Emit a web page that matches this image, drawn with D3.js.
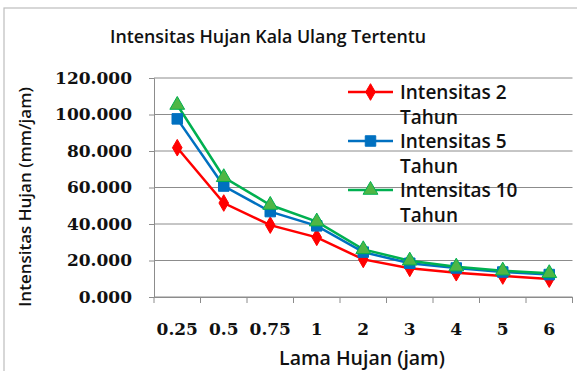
<!DOCTYPE html>
<html>
<head>
<meta charset="utf-8">
<script src="https://cdn.jsdelivr.net/npm/d3@7"></script>
<style>
  body { margin: 0; background: #fff; }
  svg { display: block; }
</style>
</head>
<body>
<svg id="chart"></svg>
<script>
// data
let durations = ["0.25", "0.5", "0.75", "1", "2", "3", "4", "5", "6"];
let int2 = [81.8, 51.5, 39.4, 32.7, 20.6, 15.7, 13.3, 11.5, 9.8];
let int5 = [97.6, 60.8, 46.8, 39.0, 24.6, 18.5, 15.9, 13.7, 12.3];
let int10 = [105.2, 65.6, 50.4, 41.3, 26.1, 19.9, 16.6, 14.4, 13.0];
let seriesNames = [["Intensitas 2", "Tahun"], ["Intensitas 5", "Tahun"], ["Intensitas 10", "Tahun"]];
let yTicks = [0, 20, 40, 60, 80, 100, 120];

let w = 577;
let h = 371;
let sans = "'Open Sans', sans-serif";
let serif = "'DejaVu Serif', serif";

let svg = d3.select("#chart")
    .attr("width", w)
    .attr("height", h);

// chart frame
svg.append("rect")
    .attr("x", 4).attr("y", 8)
    .attr("width", w + 10).attr("height", h + 10)
    .attr("fill", "none")
    .attr("stroke", "#bdbdbd")
    .attr("stroke-width", 1.2);

// scales
let xScale = d3.scaleBand()
    .domain(durations)
    .range([154, 572.5]);

let yScale = d3.scaleLinear()
    .domain([0, 120])
    .range([297, 78]);

// gridlines
svg.append("g")
    .selectAll("line")
    .data(yTicks)
    .join("line")
        .attr("x1", 154)
        .attr("x2", 572.5)
        .attr("y1", d => yScale(d))
        .attr("y2", d => yScale(d))
        .attr("stroke", "#8c8c8c")
        .attr("stroke-width", 1);

// y axis
let yAxis = d3.axisLeft(yScale)
    .tickValues(yTicks)
    .tickSize(5)
    .tickPadding(17)
    .tickFormat(d3.format(".3f"));
let yAxisGroup = svg.append("g")
    .attr("transform", "translate(154,0)")
    .call(yAxis);
yAxisGroup.select(".domain").attr("stroke", "#8c8c8c");
yAxisGroup.selectAll(".tick line").attr("stroke", "#8c8c8c");
yAxisGroup.selectAll("text")
    .attr("font-family", serif)
    .attr("font-size", 17)
    .attr("font-weight", "bold")
    .attr("fill", "#111");

// x axis
let xAxis = d3.axisBottom(xScale)
    .tickSize(0)
    .tickPadding(26);
let xAxisGroup = svg.append("g")
    .attr("transform", "translate(0,297)")
    .call(xAxis);
xAxisGroup.select(".domain").attr("stroke", "#8c8c8c");
xAxisGroup.selectAll("text")
    .attr("font-family", serif)
    .attr("font-size", 17)
    .attr("font-weight", "bold")
    .attr("fill", "#111");

// category separator ticks
let edges = durations.map(d => xScale(d)).concat([xScale.range()[1]]);
svg.append("g")
    .selectAll("line")
    .data(edges)
    .join("line")
        .attr("x1", d => d).attr("x2", d => d)
        .attr("y1", 297).attr("y2", 303)
        .attr("stroke", "#8c8c8c");

// series
let series = [
    { values: int2, color: "#ff0000", fill: "#ff0000", shape: d3.symbolDiamond, size: 80 },
    { values: int5, color: "#0070c0", fill: "#0070c0", shape: d3.symbolSquare, size: 110 },
    { values: int10, color: "#00b050", fill: "#4fb645", shape: d3.symbolTriangle, size: 95 }
];

let line = d3.line()
    .x((d, i) => xScale(durations[i]) + xScale.bandwidth() / 2)
    .y(d => yScale(d));

series.forEach(s => {
    svg.append("path")
        .datum(s.values)
        .attr("d", line)
        .attr("fill", "none")
        .attr("stroke", s.color)
        .attr("stroke-width", 2.5);
});

series.forEach(s => {
    svg.append("g")
        .selectAll("path")
        .data(s.values)
        .join("path")
            .attr("transform", (d, i) => `translate(${xScale(durations[i]) + xScale.bandwidth() / 2},${yScale(d)})`)
            .attr("d", d3.symbol().type(s.shape).size(s.size))
            .attr("fill", s.fill)
            .attr("stroke", s.color)
            .attr("stroke-width", 1);
});

// legend
let legend = svg.append("g");
series.forEach((s, i) => {
    let y = 92 + i * 49;
    legend.append("line")
        .attr("x1", 348).attr("x2", 393)
        .attr("y1", y).attr("y2", y)
        .attr("stroke", s.color)
        .attr("stroke-width", 2.5);
    legend.append("path")
        .attr("transform", `translate(370.5,${y})`)
        .attr("d", d3.symbol().type(s.shape).size(s.size))
        .attr("fill", s.fill)
        .attr("stroke", s.color);
    seriesNames[i].forEach((t, j) => {
        legend.append("text")
            .attr("x", 400)
            .attr("y", y + 7 + j * 24.5)
            .attr("font-family", sans)
            .attr("font-size", 19)
            .attr("font-weight", 600)
            .attr("fill", "#111")
            .text(t);
    });
});

// title
svg.append("text")
    .attr("x", 268)
    .attr("y", 43)
    .attr("text-anchor", "middle")
    .attr("font-family", sans)
    .attr("font-size", 17.8)
    .attr("font-weight", 600)
    .attr("fill", "#111")
    .text("Intensitas Hujan Kala Ulang Tertentu");

// axis titles
svg.append("text")
    .attr("x", 362)
    .attr("y", 365)
    .attr("text-anchor", "middle")
    .attr("font-family", sans)
    .attr("font-size", 19.5)
    .attr("font-weight", 600)
    .attr("fill", "#111")
    .text("Lama Hujan (jam)");

svg.append("text")
    .attr("transform", "translate(31,197) rotate(-90)")
    .attr("text-anchor", "middle")
    .attr("font-family", sans)
    .attr("font-size", 17)
    .attr("font-weight", 600)
    .attr("fill", "#111")
    .text("Intensitas Hujan (mm/jam)");
</script>
</body>
</html>
